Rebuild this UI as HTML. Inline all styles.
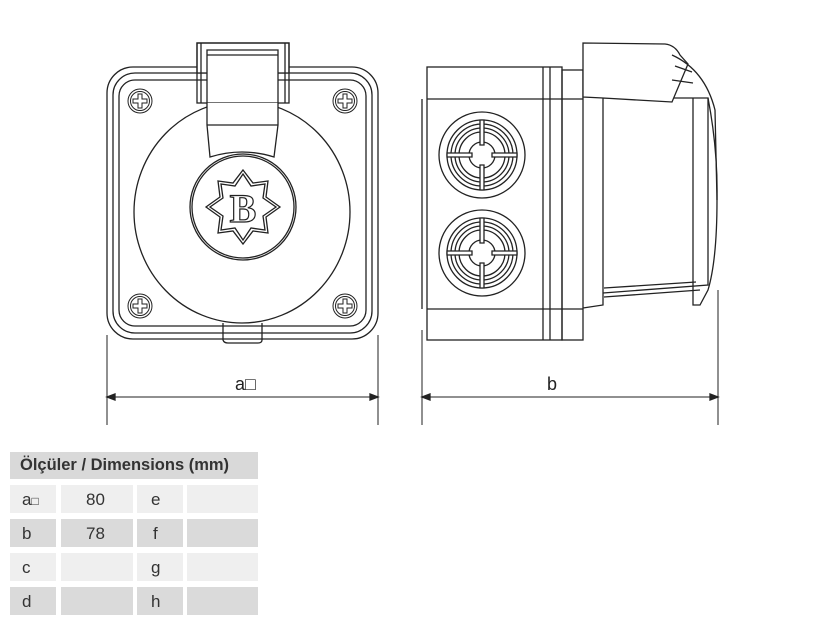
<!DOCTYPE html>
<html><head><style>
body{margin:0;width:825px;height:625px;background:#fff;font-family:"Liberation Sans",sans-serif;overflow:hidden;position:relative}
.c{position:absolute;font-size:17px;color:#333;line-height:28px}
</style></head><body>
<svg width="825" height="440" style="position:absolute;left:0;top:0" fill="none" stroke="#222" stroke-width="1.3">
<!-- front view -->
<rect x="107" y="67" width="271" height="272" rx="26"/>
<rect x="113" y="73" width="259" height="260" rx="22"/>
<rect x="119" y="80" width="247" height="246" rx="16"/>
<path d="M223 323 L223 340 Q224 343 228 343 L258 343 Q262 343 262 340 L262 323"/>
<ellipse cx="242" cy="212" rx="108" ry="111" fill="#fff"/>
<rect x="197" y="43" width="92" height="30" fill="#fff"/>
<rect x="197" y="43" width="92" height="60"/>
<line x1="201" y1="43" x2="201" y2="103"/><line x1="285" y1="43" x2="285" y2="103"/>
<path d="M207 50 L278 50 L278 103 L207 103 Z" fill="#fff"/>
<path d="M207 55 L278 55"/>
<path d="M207 103 L207 125 L210 157 Q242 147 274 157 L278 125 L278 103" fill="#fff"/>
<line x1="207" y1="125" x2="278" y2="125"/>
<circle cx="243" cy="207" r="53"/>
<circle cx="243" cy="207" r="51"/>
<polygon points="243,170 253,183 268,181 266,197 280,207 266,217 268,233 253,231 243,244 233,231 218,233 220,217 206,207 220,197 218,181 233,183"/>
<polygon points="243,174 251,186 265,184 263,198 276,207 263,216 265,230 251,228 243,240 235,228 221,230 223,216 210,207 223,198 221,184 235,186"/>
<text x="243" y="222" text-anchor="middle" font-family="Liberation Serif" font-size="40" font-weight="bold" fill="#fff" stroke="#222" stroke-width="1.2">B</text>
<g stroke-width="1">
<circle cx="140" cy="101" r="12"/><circle cx="140" cy="101" r="9.5"/>
<circle cx="345" cy="101" r="12"/><circle cx="345" cy="101" r="9.5"/>
<circle cx="140" cy="306" r="12"/><circle cx="140" cy="306" r="9.5"/>
<circle cx="345" cy="306" r="12"/><circle cx="345" cy="306" r="9.5"/>
</g>
<g stroke-width="1">
<path d="M138 94h4v5h5v4h-5v5h-4v-5h-5v-4h5z"/>
<path d="M343 94h4v5h5v4h-5v5h-4v-5h-5v-4h5z"/>
<path d="M138 299h4v5h5v4h-5v5h-4v-5h-5v-4h5z"/>
<path d="M343 299h4v5h5v4h-5v5h-4v-5h-5v-4h5z"/>
</g>
<!-- side view -->
<rect x="427" y="67" width="135" height="273"/>
<line x1="427" y1="99" x2="583" y2="99"/><line x1="427" y1="309" x2="583" y2="309"/>
<line x1="543" y1="67" x2="543" y2="340"/><line x1="550" y1="67" x2="550" y2="340"/>
<line x1="422" y1="99" x2="422" y2="309"/>
<rect x="562" y="70" width="21" height="270"/>
<path d="M583 75 L600 76 L603 80 L603 305 L583 308"/>
<path d="M603 98 L708 98 L708 285 L603 293"/>
<path d="M604 288 L696 282 M604 297 L700 290"/>
<path d="M708 98 Q718 150 717 200 Q717 260 708 290 L700 305 L693 305 L693 98"/>
<path d="M583 43 L665 44 Q675 45 680 55 L688 64 L672 102 L603 98 L583 97 Z" fill="#fff"/>
<path d="M672 55 Q705 70 715 110 L717 200"/>
<path d="M675 66 L692 72 M672 80 L693 83"/>
<g id="gl"><circle cx="482" cy="155" r="43"/><circle cx="482" cy="155" r="35"/><circle cx="482" cy="155" r="31"/><circle cx="482" cy="155" r="27"/><circle cx="482" cy="155" r="23"/><circle cx="482" cy="155" r="13"/>
<path d="M447 153h25v4h-25zM492 153h25v4h-25zM480 120h4v25h-4zM480 165h4v25h-4z" fill="#fff"/></g>
<use href="#gl" y="98"/>
<!-- dimensions -->
<g stroke-width="1">
<line x1="107" y1="335" x2="107" y2="425"/><line x1="378" y1="335" x2="378" y2="425"/>
<line x1="107" y1="397" x2="378" y2="397"/>
<line x1="422" y1="330" x2="422" y2="425"/><line x1="718" y1="290" x2="718" y2="425"/>
<line x1="422" y1="397" x2="718" y2="397"/>
</g>
<path d="M107 397l8-3v6zM378 397l-8-3v6zM422 397l8-3v6zM718 397l-8-3v6z" fill="#222"/>
<text x="235" y="390" fill="#222" stroke="none" font-size="18" font-family="Liberation Sans">a□</text>
<text x="547" y="390" fill="#222" stroke="none" font-size="18" font-family="Liberation Sans">b</text>
</svg>
<div style="position:absolute;left:10px;top:452px;width:248px;height:27px;background:#d9d9d9"></div>
<div class="c" style="left:20px;top:451px;font-size:16.5px;font-weight:bold;color:#333">Ölçüler / Dimensions (mm)</div>
<div style="position:absolute;left:10px;top:485px">
<div style="position:absolute;top:0;left:0;width:46px;height:28px;background:#efefef"></div><div style="position:absolute;top:0;left:51px;width:72px;height:28px;background:#efefef"></div><div style="position:absolute;top:0;left:127px;width:46px;height:28px;background:#efefef"></div><div style="position:absolute;top:0;left:177px;width:71px;height:28px;background:#efefef"></div>
<div style="position:absolute;top:34px;left:0;width:46px;height:28px;background:#dadada"></div><div style="position:absolute;top:34px;left:51px;width:72px;height:28px;background:#dadada"></div><div style="position:absolute;top:34px;left:127px;width:46px;height:28px;background:#dadada"></div><div style="position:absolute;top:34px;left:177px;width:71px;height:28px;background:#dadada"></div>
<div style="position:absolute;top:68px;left:0;width:46px;height:28px;background:#efefef"></div><div style="position:absolute;top:68px;left:51px;width:72px;height:28px;background:#efefef"></div><div style="position:absolute;top:68px;left:127px;width:46px;height:28px;background:#efefef"></div><div style="position:absolute;top:68px;left:177px;width:71px;height:28px;background:#efefef"></div>
<div style="position:absolute;top:102px;left:0;width:46px;height:28px;background:#dadada"></div><div style="position:absolute;top:102px;left:51px;width:72px;height:28px;background:#dadada"></div><div style="position:absolute;top:102px;left:127px;width:46px;height:28px;background:#dadada"></div><div style="position:absolute;top:102px;left:177px;width:71px;height:28px;background:#dadada"></div>
<div class="c" style="left:12px;top:1px">a<span style="font-size:12px">□</span></div><div class="c" style="left:76px;top:1px">80</div><div class="c" style="left:141px;top:1px">e</div>
<div class="c" style="left:12px;top:35px">b</div><div class="c" style="left:76px;top:35px">78</div><div class="c" style="left:143px;top:35px">f</div>
<div class="c" style="left:12px;top:69px">c</div><div class="c" style="left:141px;top:69px">g</div>
<div class="c" style="left:12px;top:103px">d</div><div class="c" style="left:141px;top:103px">h</div>
</div>
</body></html>
